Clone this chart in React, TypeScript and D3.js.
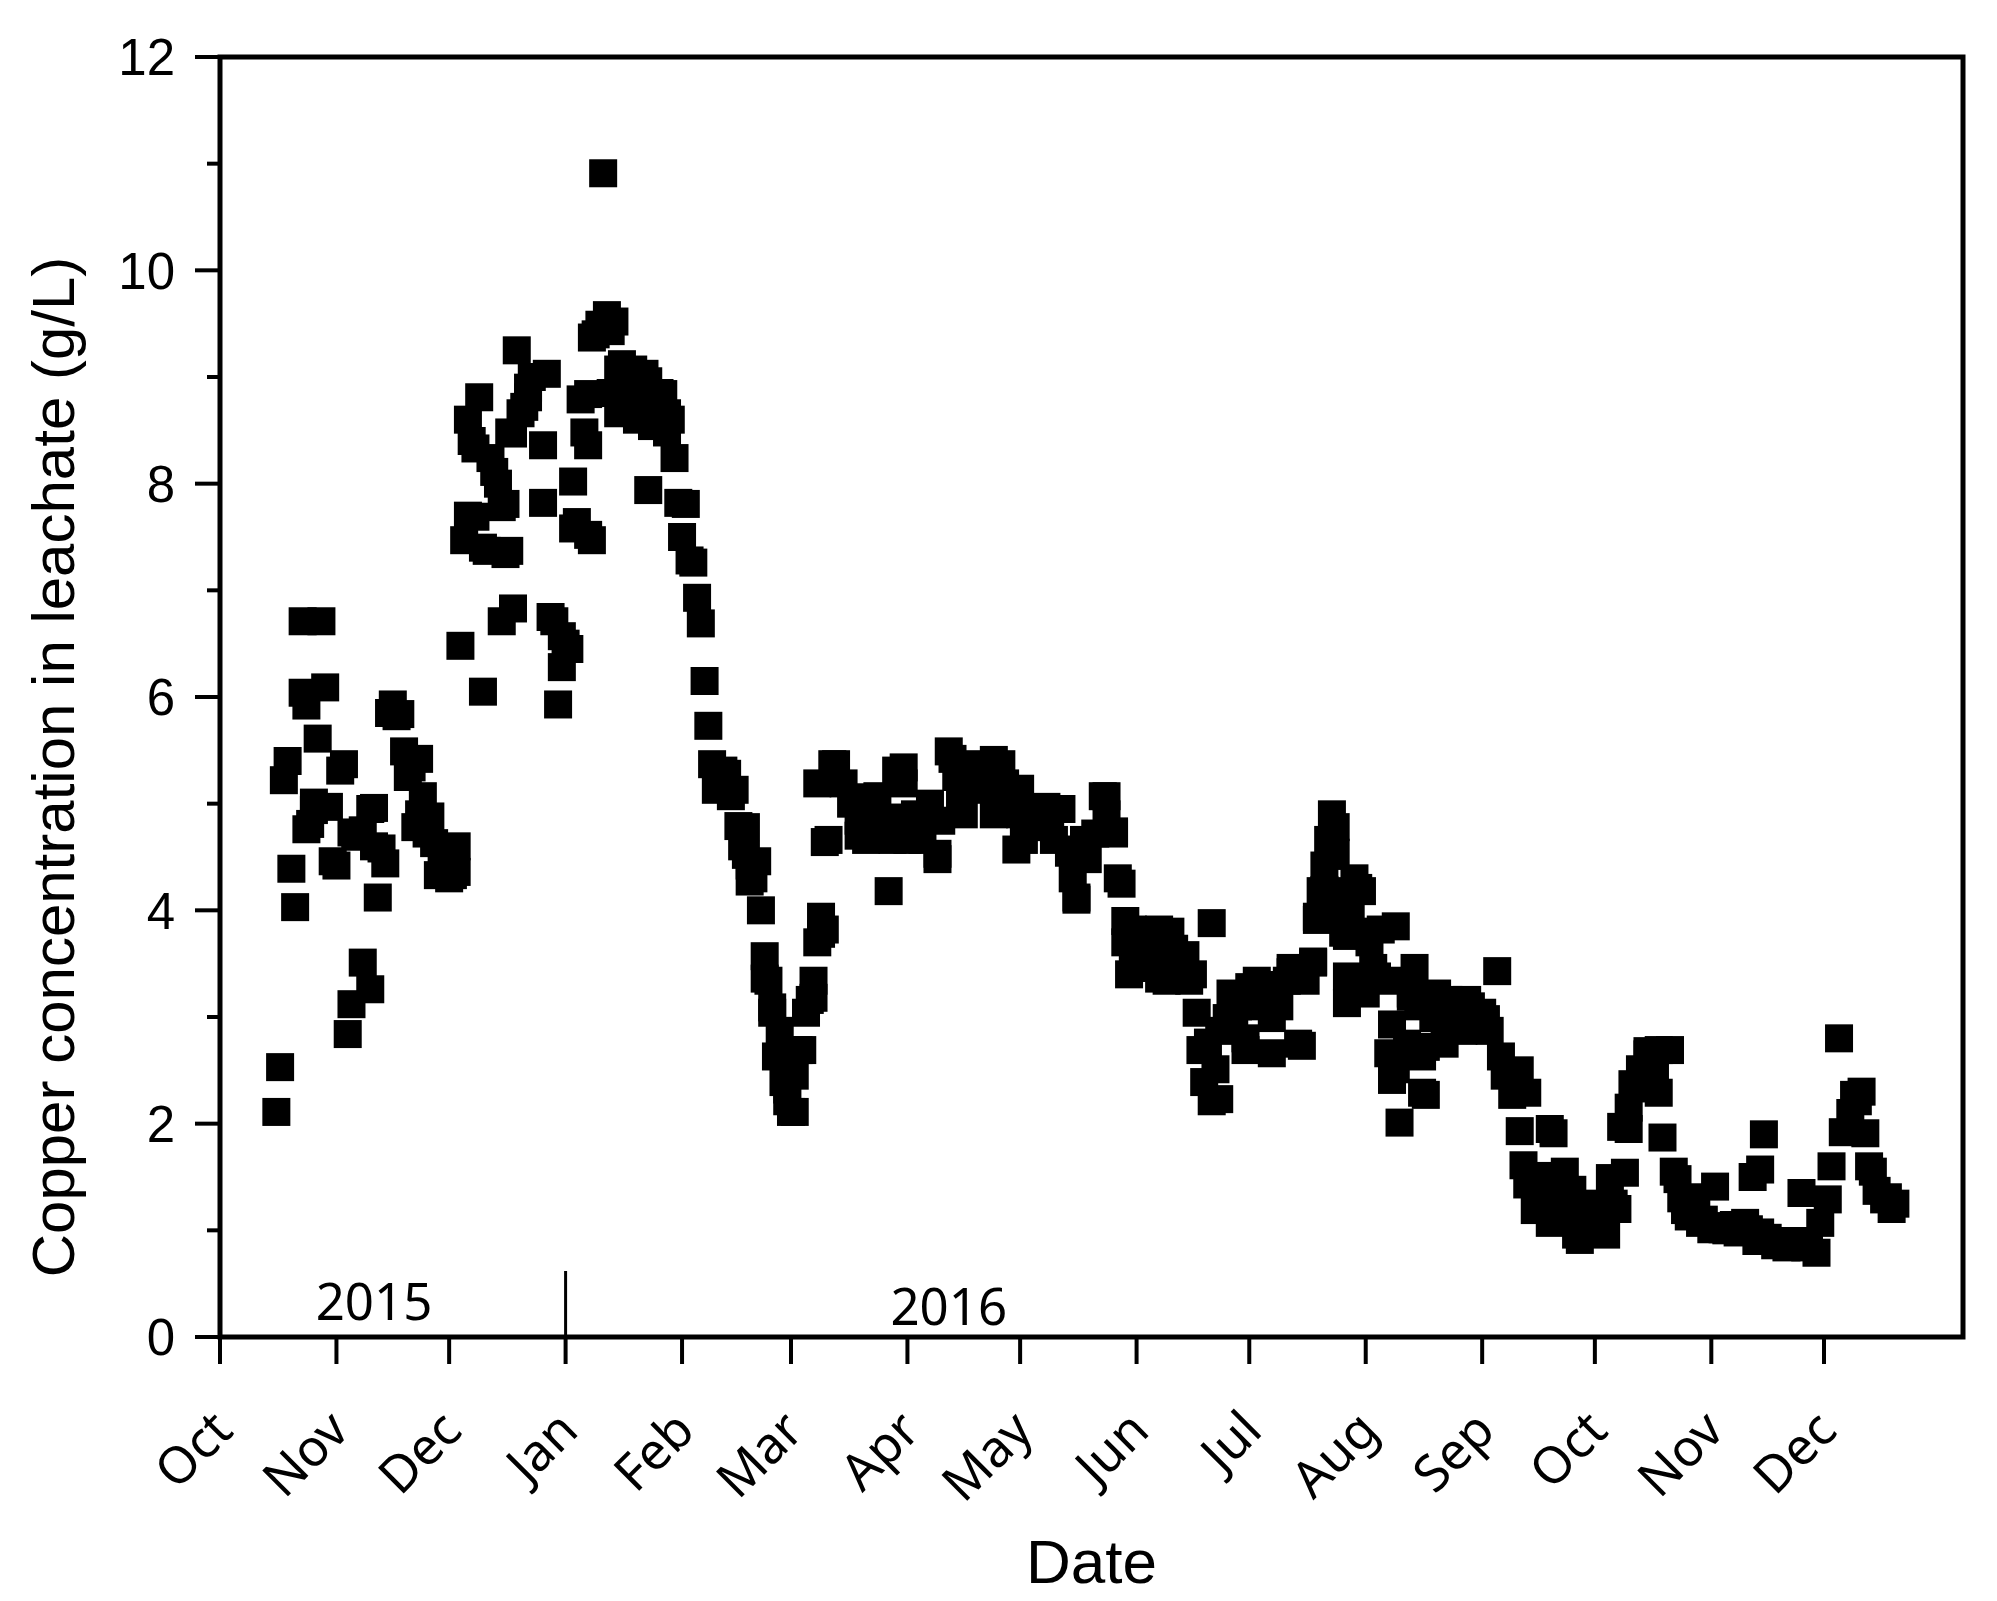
import React from "react";
import * as d3 from "d3";

// ---------- data (day index counted from 1 Oct 2015, copper in g/L) ----------
const autumn2015: [number, number][] = [
  [15,2.11],[16,2.53],[17,5.22],[18,5.4],[19,4.39],[20,4.03],[22,6.71],[22,6.04],[23,4.76],[24,4.81],[23,5.92],[25,5.01],[25,4.94],[26,5.61],[27,6.71],[28,6.09],[29,4.97],[30,4.46],[31,4.42],[32,5.31],[33,5.37],[34,2.84],[35,4.73],[35,3.12],[36,4.69],[38,4.75],[38,3.51],[40,3.26],[40,4.95],[41,4.6],[41,4.96],[42,4.12],[43,4.58],[44,4.44],[45,5.85],[46,5.93],[47,5.82],[48,5.84],[49,5.49],[50,5.25],[51,5.34],[52,4.78],[53,4.9],[53,5.42],[54,5.07],[55,4.72],[56,4.88],[57,4.63],[58,4.33],[59,4.37],[61,4.3],[62,4.33],[63,4.6],[63,4.36]
];
const dec2015: [number, number][] = [
  [64,6.48],[65,7.47],[66,7.7],[66,8.6],[67,8.4],[68,7.69],[68,8.33],[69,8.81],[70,6.05],[70,7.4],[71,7.37],[72,8.24],[73,8.11],[74,8.0],[75,6.71],[75,7.78],[76,7.81],[76,7.34],[77,7.37],[77,8.48],[78,6.83],[78,8.47],[79,9.25],[80,8.66],[81,8.72],[82,8.81],[82,8.9],[83,9.0],[86,7.82],[86,8.36],[87,9.03],[88,6.75],[89,6.71],[90,5.93],[91,6.57],[91,6.28],[92,6.5],[93,6.45]
];
const winter2016: [number, number][] = [
  [94,7.58],[94,8.02],[95,7.64],[96,8.79],[97,8.48],[98,8.36],[98,8.84],[98,7.52],[99,7.47],[99,9.37],[100,9.4],[101,9.49],[102,10.91],[103,9.58],[104,9.43],[104,8.85],[105,9.52],[106,8.66],[106,9.07],[107,9.12],[108,8.96],[109,8.72],[110,9.07],[111,8.6],[112,8.66],[113,9.03],[114,7.94],[114,8.96],[115,8.54],[116,8.72],[117,8.85],[118,8.84],[119,8.48],[119,8.66],[120,8.6],[121,8.24],[122,7.82],[123,7.5],[124,7.81],[125,7.28],[126,7.26],[127,6.93],[128,6.69],[129,6.15],[130,5.73],[131,5.37],[132,5.13],[133,5.19],[134,5.31],[135,5.28],[136,5.07],[137,5.13],[138,4.79],[139,4.6],[140,4.78],[140,4.52],[141,4.27],[141,4.42],[142,4.3],[143,4.46],[144,4.0],[145,3.57],[145,3.36],[146,3.34],[147,3.09],[147,3.04],[148,2.63],[149,2.87],[150,2.39],[151,2.32],[151,2.21],[152,2.11],[153,2.11],[153,2.45],[154,2.69],[155,2.69],[156,3.04],[157,3.16],[158,3.18],[158,3.34],[159,3.7],[160,3.78],[160,3.94],[161,3.82]
];
const spring2016: [number, number][] = [
  [159,5.19],[161,4.64],[162,4.66],[163,5.37],[164,5.37],[166,5.19],[168,5.0],[170,4.84],[170,4.7],[172,4.66],[172,5.06],[174,4.9],[175,5.07],[178,4.18],[179,4.66],[179,4.87],[180,5.31],[182,5.19],[182,5.34],[183,4.66],[184,4.7],[185,4.9],[187,4.66],[189,5.0],[191,4.48],[191,4.53],[192,4.84],[194,5.49],[195,5.42],[196,5.25],[197,5.0],[198,4.9],[199,5.31],[201,5.19],[202,5.37],[204,5.13],[206,4.9],[206,5.41],[208,5.37],[209,5.19],[211,5.0],[212,4.57],[213,4.9],[213,5.14],[214,4.66],[217,4.95],[219,4.78],[220,4.97],[221,4.9],[222,4.66],[224,4.95],[226,4.54],[227,4.3],[228,4.12],[228,4.1],[229,4.57],[230,4.66],[231,4.48],[233,4.72],[235,5.07],[236,5.07],[236,4.9],[238,4.72],[238,4.74],[239,4.3],[240,4.25],[241,3.9],[241,3.7]
];
const summer2016: [number, number][] = [
  [242,3.4],[243,3.82],[243,3.46],[244,3.58],[245,3.64],[247,3.46],[249,3.7],[250,3.82],[250,3.36],[252,3.34],[253,3.52],[253,3.8],[254,3.64],[255,3.4],[257,3.58],[258,3.34],[259,3.4],[260,3.04],[261,2.69],[262,2.39],[263,2.76],[264,2.21],[264,3.88],[265,2.51],[266,2.23],[266,2.87],[268,2.99],[269,3.22],[270,2.99],[271,3.1],[272,3.16],[273,2.69],[273,2.8],[274,3.28],[274,3.2],[276,3.34],[277,3.1],[278,3.3],[279,3.22],[280,2.99],[280,2.66],[281,3.23],[282,3.1],[284,3.34],[285,3.46],[285,3.42],[287,2.75],[288,2.73],[289,3.34],[291,3.52],[291,3.51],[292,3.94],[292,3.91],[293,4.18],[294,4.42],[294,4.19],[295,4.66],[296,4.9],[296,4.51],[297,4.78],[297,4.54],[298,4.18],[299,3.94],[299,3.79],[300,3.76],[300,3.38],[300,3.13],[301,4.0],[302,4.3],[303,4.21],[304,4.18],[305,3.22],[305,3.8],[306,3.7],[307,3.46],[308,3.38],[309,3.82],[311,3.34],[311,2.66],[312,2.93],[312,2.41],[313,2.51],[313,3.85],[314,2.01],[316,2.75],[317,3.22],[317,3.19],[318,3.46],[319,3.1],[320,2.63],[320,2.29],[321,2.27],[321,2.72],[323,2.99],[324,3.22],[326,2.75],[327,3.16],[328,3.1],[330,2.99],[331,2.87],[332,3.16],[333,3.1],[334,2.99],[335,2.9]
];
const autumn2016: [number, number][] = [
  [336,3.04],[337,2.98],[338,2.87],[340,3.43],[341,2.63],[342,2.45],[344,2.27],[346,2.5],[346,1.93],[347,1.61],[348,2.29],[348,1.43],[349,1.49],[350,1.19],[352,1.51],[352,1.31],[353,1.2],[354,1.07],[354,1.95],[355,1.91],[356,1.37],[358,1.55],[359,1.19],[360,1.38],[361,0.96],[362,0.91],[363,1.01],[365,0.98],[366,1.25],[367,1.13],[369,0.96],[370,1.49],[371,1.25],[372,1.2],[373,1.97],[374,1.54],[375,2.15],[375,1.95],[376,2.37],[377,2.33],[378,2.51],[380,2.68],[380,2.65],[381,2.39],[382,2.53],[383,2.29],[383,2.69],[384,1.87],[386,2.69],[387,1.55],[388,1.48],[389,1.3],[390,1.19],[391,1.13],[392,1.31],[393,1.2],[394,1.07],[395,1.1],[397,1.01],[398,1.41],[399,1.04],[400,1.01],[401,1.0],[403,1.05],[404,0.98],[406,1.07],[407,1.01],[408,1.5],[409,0.9],[410,1.57],[410,0.98],[411,1.9],[412,0.93],[414,0.86],[416,0.9],[417,0.84],[418,0.88],[420,0.85],[421,1.35],[422,0.84],[423,0.9],[425,0.79],[426,1.07],[428,1.29],[429,1.6],[431,2.8],[432,1.92],[434,2.1],[435,2.27],[436,2.21],[437,2.3],[438,1.91],[439,1.6],[440,1.55],[441,1.37],[443,1.29],[444,1.31],[445,1.2],[446,1.25]
];

const monthNames = ["Oct","Nov","Dec","Jan","Feb","Mar","Apr","May","Jun","Jul","Aug","Sep","Oct","Nov","Dec"];
const yMajorTicks = [0, 2, 4, 6, 8, 10, 12];
const yMinorTicks = [1, 3, 5, 7, 9, 11];
const yearNames = ["2015", "2016"];
const yearLabelDays = [41, 194];

const W = 1997, H = 1601;
const M = { left: 220, right: 1963, top: 57, bottom: 1337 };

export default function App() {
  const start = new Date(2015, 9, 1);
  const end = new Date(2017, 0, 7);
  const x = d3.scaleTime().domain([start, end]).range([M.left, M.right]);
  const y = d3.scaleLinear().domain([0, 12]).range([M.bottom, M.top]);
  const dayToDate = (d: number) => d3.timeDay.offset(start, d);
  const monthTicks = d3.timeMonth.range(start, new Date(2016, 11, 2));
  const all = [...autumn2015, ...dec2015, ...winter2016, ...spring2016, ...summer2016, ...autumn2016];
  const sq = 28;
  const jan2016 = new Date(2016, 0, 1);
  const numFont = "'Liberation Sans', Arial, sans-serif";
  const monthFont = "'Noto Sans', 'Open Sans', sans-serif";

  return (
    <svg width={W} height={H} style={{ position: "absolute", left: 0, top: 0, display: "block", background: "#fff" }}>
      <rect x={0} y={0} width={W} height={H} fill="#fff" />
      {/* points */}
      <g>
        {all.map(([d, v], i) => (
          <rect key={i} x={x(dayToDate(d)) - sq / 2} y={y(v) - sq / 2} width={sq} height={sq} fill="#000" />
        ))}
      </g>
      {/* frame */}
      <rect x={M.left} y={M.top} width={M.right - M.left} height={M.bottom - M.top} fill="none" stroke="#000" strokeWidth={5} />
      {/* y ticks */}
      {yMajorTicks.map((t) => (
        <g key={"ym" + t}>
          <line x1={M.left - 25} x2={M.left} y1={y(t)} y2={y(t)} stroke="#000" strokeWidth={4} />
          <text x={M.left - 45} y={y(t)} dy="0.36em" textAnchor="end" fontFamily={numFont} fontSize={51} fill="#000">{t}</text>
        </g>
      ))}
      {yMinorTicks.map((t) => (
        <line key={"yn" + t} x1={M.left - 13} x2={M.left} y1={y(t)} y2={y(t)} stroke="#000" strokeWidth={4} />
      ))}
      {/* x ticks */}
      {monthTicks.map((m, i) => {
        const px = x(m);
        return (
          <g key={"xm" + i}>
            <line x1={px} x2={px} y1={M.bottom} y2={M.bottom + 27} stroke="#000" strokeWidth={4} />
            <text
              transform={`translate(${px + 15},${M.bottom + 96}) rotate(-45)`}
              textAnchor="end"
              fontFamily={monthFont}
              fontSize={51}
              fill="#000"
            >
              {monthNames[i]}
            </text>
          </g>
        );
      })}
      {/* year separator and labels */}
      <line x1={x(jan2016)} x2={x(jan2016)} y1={M.bottom - 66} y2={M.bottom} stroke="#000" strokeWidth={3} />
      {yearNames.map((n, i) => (
        <text key={n} x={x(dayToDate(yearLabelDays[i]))} y={M.bottom - (i === 0 ? 17 : 12)} textAnchor="middle" fontFamily={monthFont} fontSize={51} fill="#000">
          {n}
        </text>
      ))}
      {/* axis titles */}
      <text x={(M.left + M.right) / 2} y={1583} textAnchor="middle" fontFamily={numFont} fontSize={62} fill="#000">Date</text>
      <text transform={`translate(74,767) rotate(-90)`} textAnchor="middle" fontFamily={numFont} fontSize={60} fill="#000">
        Copper concentration in leachate (g/L)
      </text>
    </svg>
  );
}
